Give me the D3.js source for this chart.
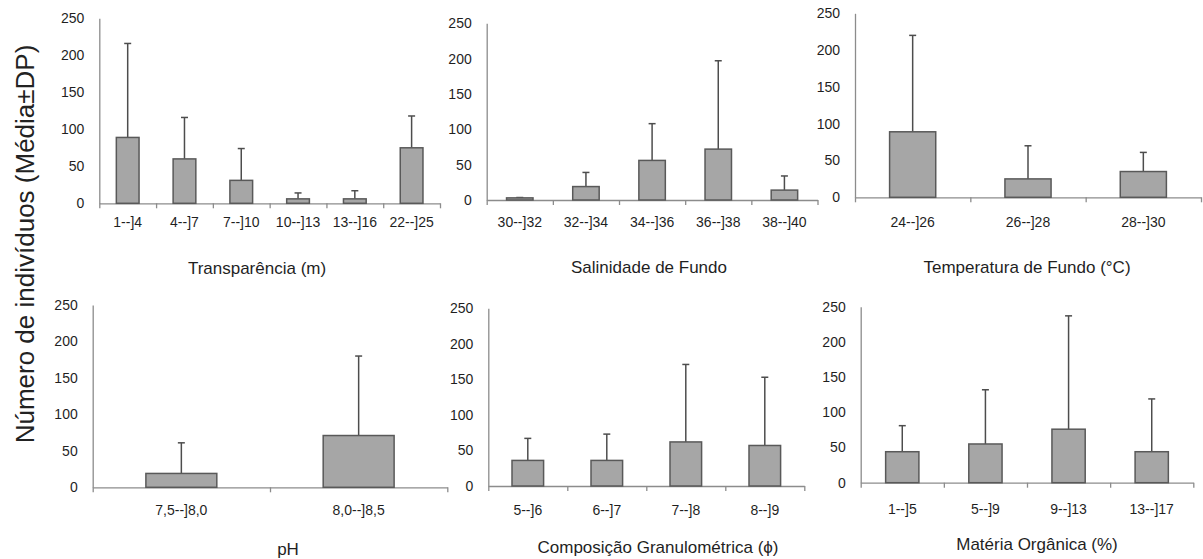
<!DOCTYPE html>
<html>
<head>
<meta charset="utf-8">
<script src="https://cdn.jsdelivr.net/npm/d3@7/dist/d3.min.js"></script>
<style>
  html, body { margin: 0; padding: 0; background: #fff; }
  svg { display: block; font-family: "Liberation Sans", Arial, sans-serif; }
</style>
</head>
<body>
<svg id="chart" width="1203" height="559"></svg>
<script>
// Shared y tick values (number of individuals)
const yTicks = [0, 50, 100, 150, 200, 250];

// Transparência (m)
const transparenciaCats = ["1--]4", "4--]7", "7--]10", "10--]13", "13--]16", "22--]25"];
const transparenciaMean = [89, 60, 31, 6, 6, 75];
const transparenciaSD   = [127, 56, 43, 8, 11, 43];

// Salinidade de Fundo
const salinidadeCats = ["30--]32", "32--]34", "34--]36", "36--]38", "38--]40"];
const salinidadeMean = [3, 19, 56, 72, 14];
const salinidadeSD   = [0.5, 20, 52, 125, 20];

// Temperatura de Fundo (°C)
const temperaturaCats = ["24--]26", "26--]28", "28--]30"];
const temperaturaMean = [89, 25, 35];
const temperaturaSD   = [131, 45, 26];

// pH
const phCats = ["7,5--]8,0", "8,0--]8,5"];
const phMean = [19, 71];
const phSD   = [42, 109];

// Composição Granulométrica (ϕ)
const granuloCats = ["5--]6", "6--]7", "7--]8", "8--]9"];
const granuloMean = [36, 36, 62, 57];
const granuloSD   = [31, 37, 109, 96];

// Matéria Orgânica (%)
const materiaCats = ["1--]5", "5--]9", "9--]13", "13--]17"];
const materiaMean = [44, 55, 76, 44];
const materiaSD   = [37, 77, 161, 75];

// Panel layout: plot frame, label baseline and title placement
const panels = [
  { cats: transparenciaCats, mean: transparenciaMean, sd: transparenciaSD, title: "Transparência (m)",
    x0: 99.3, x1: 440, yTop: 18.3, yBot: 203.3, labelY: 227, titleX: 257, titleY: 274 },
  { cats: salinidadeCats, mean: salinidadeMean, sd: salinidadeSD, title: "Salinidade de Fundo",
    x0: 486.7, x1: 817.5, yTop: 23.3, yBot: 200, labelY: 227, titleX: 649, titleY: 273 },
  { cats: temperaturaCats, mean: temperaturaMean, sd: temperaturaSD, title: "Temperatura de Fundo (°C)",
    x0: 855, x1: 1201, yTop: 13.3, yBot: 197.3, labelY: 227, titleX: 1027, titleY: 273 },
  { cats: phCats, mean: phMean, sd: phSD, title: "pH",
    x0: 92.7, x1: 447.3, yTop: 305, yBot: 487.3, labelY: 515, titleX: 288, titleY: 555 },
  { cats: granuloCats, mean: granuloMean, sd: granuloSD, title: "Composição Granulométrica (ϕ)",
    x0: 488.3, x1: 804.3, yTop: 308.3, yBot: 486, labelY: 515, titleX: 658, titleY: 553 },
  { cats: materiaCats, mean: materiaMean, sd: materiaSD, title: "Matéria Orgânica (%)",
    x0: 860.7, x1: 1193.3, yTop: 306.7, yBot: 482.7, labelY: 514, titleX: 1037, titleY: 550 }
];

const svg = d3.select("#chart");

const AXIS = "#8c8c8c";
const BAR_FILL = "#a6a6a6";
const BAR_STROKE = "#595959";
const ERR = "#4d4d4d";
const TEXT = "#1f1f1f";

panels.forEach(p => {
  const g = svg.append("g");
  const rows = p.cats.map((c, i) => ({ cat: c, mean: p.mean[i], sd: p.sd[i] }));

  const x = d3.scaleBand().domain(p.cats).range([p.x0, p.x1])
    .paddingInner(0.6).paddingOuter(0.3);
  const y = d3.scaleLinear().domain([0, 250]).range([p.yBot, p.yTop]);
  const xEdge = d3.scaleLinear().domain([0, p.cats.length]).range([p.x0, p.x1]);

  // y axis: line and value labels
  const yAx = g.append("g").attr("transform", `translate(${p.x0},0)`)
    .call(d3.axisLeft(y).tickValues(yTicks).tickSize(0).tickPadding(15).tickSizeOuter(0));
  yAx.select(".domain").attr("stroke", AXIS).attr("stroke-width", 1.3);
  yAx.selectAll("text").attr("fill", TEXT).style("font-size", "14px")
    .style("font-family", "'Liberation Sans', Arial, sans-serif");

  // x axis: line with ticks at category boundaries
  const xAx = g.append("g").attr("transform", `translate(0,${p.yBot})`)
    .call(d3.axisBottom(xEdge).tickValues(d3.range(p.cats.length + 1)).tickFormat("")
      .tickSize(5).tickSizeOuter(0));
  xAx.select(".domain").attr("stroke", AXIS).attr("stroke-width", 1.3);
  xAx.selectAll(".tick line").attr("stroke", AXIS).attr("stroke-width", 1.3);

  // category labels
  g.selectAll("text.cat").data(rows).enter().append("text")
    .attr("class", "cat")
    .attr("x", d => x(d.cat) + x.bandwidth() / 2)
    .attr("y", p.labelY)
    .attr("text-anchor", "middle")
    .attr("fill", TEXT)
    .style("font-size", "14px")
    .text(d => d.cat);

  // error bars (mean to mean + SD)
  const eb = g.selectAll("g.err").data(rows).enter().append("g").attr("class", "err");
  eb.append("line")
    .attr("x1", d => x(d.cat) + x.bandwidth() / 2)
    .attr("x2", d => x(d.cat) + x.bandwidth() / 2)
    .attr("y1", d => y(d.mean))
    .attr("y2", d => y(d.mean + d.sd))
    .attr("stroke", ERR).attr("stroke-width", 1.5);
  eb.append("line")
    .attr("x1", d => x(d.cat) + x.bandwidth() / 2 - 3.5)
    .attr("x2", d => x(d.cat) + x.bandwidth() / 2 + 3.5)
    .attr("y1", d => y(d.mean + d.sd))
    .attr("y2", d => y(d.mean + d.sd))
    .attr("stroke", ERR).attr("stroke-width", 1.5);

  // bars
  g.selectAll("rect.bar").data(rows).enter().append("rect")
    .attr("class", "bar")
    .attr("x", d => x(d.cat))
    .attr("width", x.bandwidth())
    .attr("y", d => y(d.mean))
    .attr("height", d => y(0) - y(d.mean))
    .attr("fill", BAR_FILL)
    .attr("stroke", BAR_STROKE)
    .attr("stroke-width", 1.5);

  // panel title
  g.append("text")
    .attr("x", p.titleX)
    .attr("y", p.titleY)
    .attr("text-anchor", "middle")
    .attr("fill", TEXT)
    .style("font-size", "17px")
    .text(p.title);
});

// shared y axis title
svg.append("text")
  .attr("transform", "translate(34,244) rotate(-90)")
  .attr("text-anchor", "middle")
  .attr("fill", "#222")
  .style("font-size", "26px")
  .text("Número de indivíduos (Média±DP)");
</script>
</body>
</html>
